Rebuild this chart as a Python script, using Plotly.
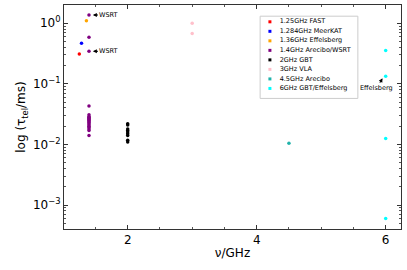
import plotly.graph_objects as go
import numpy as np

labels = ["1.25GHz FAST", "1.284GHz MeerKAT", "1.36GHz Effelsberg", "1.4GHz Arecibo/WSRT",
          "2GHz GBT", "3GHz VLA", "4.5GHz Arecibo", "6GHz GBT/Effelsberg"]
colors = ["red", "blue", "orange", "purple", "black", "pink", "lightseagreen", "cyan"]
freqs = [1.25, 1.284, 1.36, 1.4, 2.0, 3.0, 4.5, 6.0]
tau_fast = [0.31]
tau_meerkat = [0.47]
tau_effelsberg = [1.1]
tau_arecibo_wsrt = [1.37, 0.59, 0.345, 0.043, 0.031, 0.029, 0.028, 0.027, 0.026, 0.025, 0.024,
                    0.023, 0.022, 0.021, 0.020, 0.019, 0.018, 0.017, 0.014]
tau_gbt2 = [0.022, 0.021, 0.018, 0.017, 0.016, 0.015, 0.014, 0.0117, 0.011]
tau_vla = [1.0, 0.68]
tau_arecibo45 = [0.0105]
tau_gbt6 = [0.355, 0.133, 0.0125, 0.0006]
all_tau = [tau_fast, tau_meerkat, tau_effelsberg, tau_arecibo_wsrt, tau_gbt2, tau_vla, tau_arecibo45, tau_gbt6]

y_tickvals = [1e-3, 1e-2, 1e-1, 1]
y_ticktext = ["10<sup>−3</sup>", "10<sup>−2</sup>", "10<sup>−1</sup>", "10<sup>0</sup>"]
x_tickvals = [2, 4, 6]

fig = go.Figure()
for lab, col, f, vals in zip(labels, colors, freqs, all_tau):
    fig.add_trace(go.Scatter(x=[f] * len(vals), y=vals, mode="markers", name=lab, showlegend=False,
                             marker=dict(color=col, size=3.5, symbol="circle")))

# legend drawn on an overlay axis (fractions of plot area)
n = len(labels)
leg_top, leg_step = 0.925, 0.0425
leg_y = [leg_top - i * leg_step for i in range(n)]
fig.add_trace(go.Scatter(x=[0.611] * n, y=leg_y, mode="markers", xaxis="x2", yaxis="y2",
                         marker=dict(color=colors, size=3, symbol="square"), showlegend=False,
                         hoverinfo="skip"))
fig.add_trace(go.Scatter(x=[0.640] * n, y=leg_y, mode="text", text=labels, textposition="middle right",
                         xaxis="x2", yaxis="y2", showlegend=False, hoverinfo="skip",
                         textfont=dict(family="DejaVu Sans", size=6.5, color="black")))
fig.add_shape(type="rect", xref="paper", yref="paper", x0=0.582, x1=0.872, y0=0.583, y1=0.95,
              line=dict(color="#cccccc", width=1), fillcolor="rgba(255,255,255,0.8)", layer="below")

minor_y = []
for d in [-4, -3, -2, -1, 0]:
    for m in range(2, 10):
        minor_y.append(m * 10.0 ** d)

ax_common = dict(showline=True, linecolor="#333", linewidth=1, mirror="ticks",
                 ticks="inside", tickcolor="#333", ticklen=4, showgrid=False, zeroline=False,
                 automargin=False,
                 tickfont=dict(family="DejaVu Sans", size=12, color="black"))

fig.update_xaxes(range=[1.0125, 6.2375], tickvals=x_tickvals,
                 title=dict(text="ν/GHz", font=dict(family="DejaVu Sans", size=12, color="black"), standoff=2),
                 minor=dict(ticks="inside", ticklen=2, dtick=0.5, tickcolor="#555"),
                 **ax_common)
fig.update_yaxes(type="log", range=[-3.396, 0.302], tickvals=y_tickvals, ticktext=y_ticktext,
                 title=dict(text="log (τ<sub>tel</sub>/ms)", font=dict(family="DejaVu Sans", size=12, color="black"), standoff=4),
                 minor=dict(ticks="inside", ticklen=2, tickvals=minor_y, tickcolor="#555"),
                 **ax_common)

ann_font = dict(family="DejaVu Sans", size=6.5, color="black")
for yv in [1.37, 0.345]:
    fig.add_annotation(x=1.46, y=np.log10(yv), ax=1.71, ay=np.log10(yv), axref="x", ayref="y",
                       xref="x", yref="y", text="WSRT", showarrow=True, arrowhead=2,
                       arrowsize=0.8, arrowwidth=1, arrowcolor="black", font=ann_font)
fig.add_annotation(x=5.95, y=np.log10(0.124), ax=5.865, ay=np.log10(0.0846), axref="x", ayref="y",
                   xref="x", yref="y", text="Effelsberg", showarrow=True, arrowhead=2,
                   arrowsize=0.8, arrowwidth=1, arrowcolor="black", font=ann_font)

fig.update_layout(width=407, height=270, margin=dict(l=64, r=6, t=5, b=41),
                  plot_bgcolor="white", paper_bgcolor="white",
                  font=dict(family="DejaVu Sans", color="black"),
                  xaxis2=dict(overlaying="x", range=[0, 1], visible=False, fixedrange=True),
                  yaxis2=dict(overlaying="y", range=[0, 1], visible=False, fixedrange=True),
                  showlegend=False)
fig.write_html("out.html", config={"displayModeBar": False},
               post_script="document.body.style.margin='0';")
